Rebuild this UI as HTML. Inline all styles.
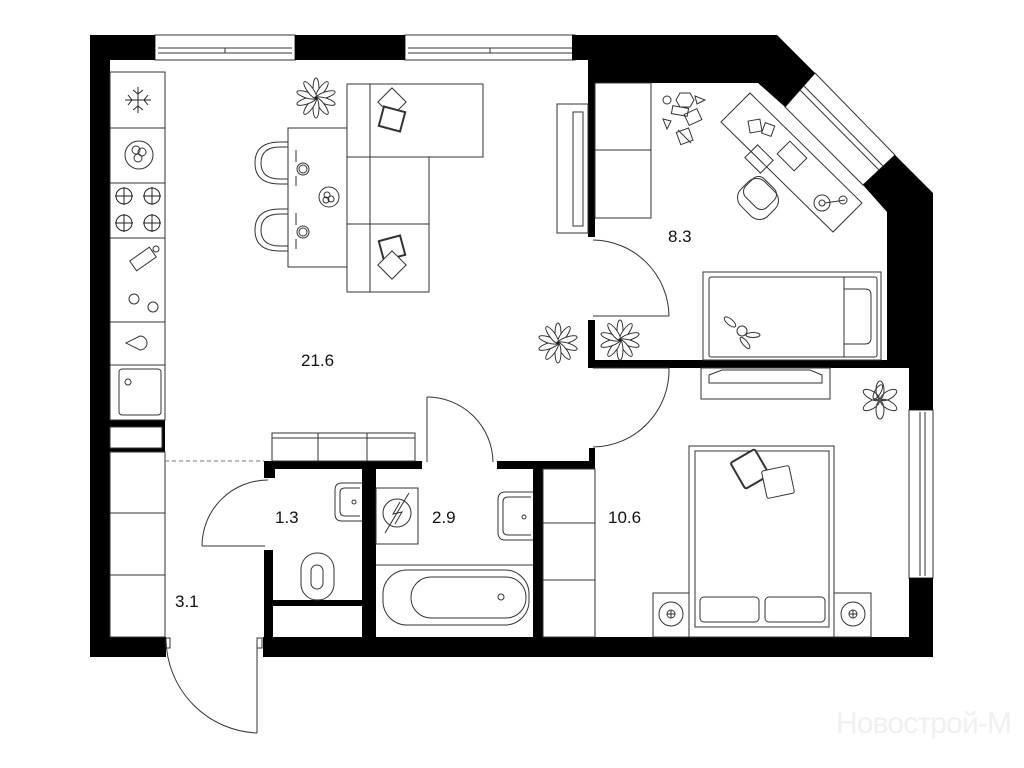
<!DOCTYPE html>
<html><head><meta charset="utf-8"><style>
html,body{margin:0;padding:0;background:#fff;}
svg{display:block;}
text{font-family:"Liberation Sans",sans-serif;font-size:17px;fill:#111;}
</style></head><body>
<svg width="1024" height="768" viewBox="0 0 1024 768" xmlns="http://www.w3.org/2000/svg">
<defs>
<g id="star"><g fill="#fff" stroke="#222" stroke-width="0.9">
<ellipse cx="0" cy="-10" rx="3" ry="10"/><ellipse cx="0" cy="-10" rx="3" ry="10" transform="rotate(36)"/><ellipse cx="0" cy="-10" rx="3" ry="10" transform="rotate(72)"/><ellipse cx="0" cy="-10" rx="3" ry="10" transform="rotate(108)"/><ellipse cx="0" cy="-10" rx="3" ry="10" transform="rotate(144)"/><ellipse cx="0" cy="-10" rx="3" ry="10" transform="rotate(180)"/><ellipse cx="0" cy="-10" rx="3" ry="10" transform="rotate(216)"/><ellipse cx="0" cy="-10" rx="3" ry="10" transform="rotate(252)"/><ellipse cx="0" cy="-10" rx="3" ry="10" transform="rotate(288)"/><ellipse cx="0" cy="-10" rx="3" ry="10" transform="rotate(324)"/></g><circle r="1.2" fill="#000"/></g>
<g id="burner"><circle r="8" fill="none" stroke="#222"/><line x1="-9" y1="0" x2="9" y2="0" stroke="#222"/><line x1="0" y1="-9" x2="0" y2="9" stroke="#222"/></g>
</defs>
<g fill="none" stroke="#333" stroke-width="1">
<rect x="155" y="35" width="140" height="25" fill="#fff"/>
<line x1="158" y1="48" x2="292" y2="48"/><line x1="158" y1="53" x2="292" y2="53"/><line x1="225" y1="48" x2="225" y2="53"/>
<rect x="405" y="35" width="170" height="25" fill="#fff"/>
<line x1="408" y1="48" x2="572" y2="48"/><line x1="408" y1="53" x2="572" y2="53"/><line x1="490" y1="48" x2="490" y2="53"/>
<polygon points="815,73 895,155 863,185 785,107" fill="#fff"/>
<line x1="800" y1="90" x2="879" y2="170"/><line x1="804" y1="86" x2="883" y2="166"/>
<rect x="909" y="410" width="24" height="168" fill="#fff"/>
<line x1="920" y1="412" x2="920" y2="576"/><line x1="925" y1="412" x2="925" y2="576"/>
</g>
<g fill="#000">
<rect x="90" y="35" width="65" height="25"/>
<rect x="295" y="35" width="110" height="25"/>
<rect x="90" y="35" width="20" height="622"/>
<rect x="90" y="637" width="76" height="20"/>
<polygon points="572,35 777,35 815,73 785,107 758,83 595,83 595,237 588,237 588,60 572,60"/>
<polygon points="895,155 933,193 933,410 909,410 909,368 887,368 887,212 863,185"/>
<rect x="909" y="578" width="24" height="79"/>
<rect x="263" y="637" width="670" height="20"/>
<rect x="588" y="320" width="7" height="48"/>
<rect x="588" y="360" width="300" height="8"/>
<rect x="110" y="420" width="55" height="32"/>
<rect x="264" y="461" width="158" height="8"/>
<rect x="264" y="461" width="11" height="17"/>
<rect x="264" y="550" width="9" height="90"/>
<rect x="362" y="461" width="14" height="178"/>
<rect x="273" y="600" width="90" height="6"/>
<rect x="497" y="461" width="98" height="8"/>
<rect x="589" y="448" width="6" height="20"/>
<rect x="533" y="461" width="10" height="178"/>
</g>
<rect x="110" y="427" width="52" height="21" fill="#fff" stroke="#333"/>
<g fill="none" stroke="#333" stroke-width="1">
<rect x="110" y="72" width="55" height="348"/>
<line x1="110" y1="128" x2="165" y2="128"/><line x1="110" y1="183" x2="165" y2="183"/><line x1="110" y1="238" x2="165" y2="238"/><line x1="110" y1="322" x2="165" y2="322"/><line x1="110" y1="365" x2="165" y2="365"/>
<g stroke="#222"><line x1="138" y1="87" x2="138" y2="113"/><line x1="125" y1="100" x2="151" y2="100"/><path d="M133 90 L138 94 L143 90 M133 110 L138 106 L143 110 M128 95 L132 100 L128 105 M148 95 L144 100 L148 105"/></g>
<circle cx="139" cy="155" r="14"/><circle cx="136" cy="150" r="4"/><circle cx="142" cy="152" r="4"/><circle cx="138" cy="158" r="4"/>
<use href="#burner" x="124" y="196"/><use href="#burner" x="152" y="196"/><use href="#burner" x="124" y="223"/><use href="#burner" x="152" y="223"/>
<rect x="131" y="253" width="24" height="12" transform="rotate(-35 143 259)"/><circle cx="156" cy="249" r="3"/>
<circle cx="134" cy="299" r="5"/><circle cx="153" cy="307" r="5"/>
<path d="M126 343 L140 336 A7 7 0 1 1 140 350 Z"/>
<rect x="119" y="369" width="42" height="46" rx="3"/><circle cx="128" cy="382" r="3"/>
<rect x="110" y="452" width="55" height="185"/>
<line x1="110" y1="513" x2="165" y2="513"/><line x1="110" y1="575" x2="165" y2="575"/>
<line x1="165" y1="461" x2="264" y2="461" stroke-dasharray="4,3" stroke="#777"/>
<rect x="288" y="128" width="59" height="139"/>
<path d="M288 142 H280 Q255 142 255 163 Q255 184 280 184 H288 M288 147 H280 Q261 147 261 163 Q261 179 280 179 H288"/>
<path d="M288 209 H280 Q255 209 255 230 Q255 251 280 251 H288 M288 214 H280 Q261 214 261 230 Q261 246 280 246 H288"/>
<circle cx="303" cy="169" r="6"/><circle cx="303" cy="169" r="4"/><line x1="296" y1="150" x2="296" y2="162"/><line x1="296" y1="176" x2="296" y2="186"/>
<circle cx="303" cy="232" r="6"/><circle cx="303" cy="232" r="4"/><line x1="296" y1="213" x2="296" y2="225"/><line x1="296" y1="239" x2="296" y2="249"/>
<circle cx="329" cy="197" r="10"/><circle cx="327" cy="195" r="3"/><circle cx="331" cy="199" r="3"/><circle cx="326" cy="200" r="3"/>
<use href="#star" x="316" y="98"/>
<rect x="347" y="84" width="136" height="73"/>
<rect x="347" y="157" width="82" height="135"/>
<line x1="370" y1="84" x2="370" y2="292"/><line x1="347" y1="224" x2="429" y2="224"/>
<rect x="382" y="92" width="20" height="20" transform="rotate(45 392 102)" fill="#fff"/>
<rect x="381" y="109" width="22" height="20" transform="rotate(15 392 119)" stroke-width="2" fill="#fff"/>
<rect x="381" y="238" width="22" height="20" transform="rotate(-15 392 248)" stroke-width="2" fill="#fff"/>
<rect x="382" y="255" width="20" height="20" transform="rotate(45 392 265)" fill="#fff"/>
<rect x="557" y="104" width="31" height="129"/>
<rect x="573" y="112" width="10" height="114"/>
<use href="#star" x="558" y="343"/>
<rect x="272" y="433" width="143" height="28"/><line x1="272" y1="438" x2="415" y2="438"/><line x1="318" y1="433" x2="318" y2="461"/><line x1="367" y1="433" x2="367" y2="461"/>
<line x1="257" y1="638" x2="257" y2="733"/><path d="M257 733 A95 95 0 0 1 166 640"/>
<rect x="166" y="638" width="4" height="10"/><rect x="257" y="638" width="5" height="10"/>
<line x1="202" y1="546" x2="265" y2="546"/><path d="M202 546 A66 66 0 0 1 268 480"/>
<line x1="427" y1="397" x2="427" y2="462"/><path d="M427 397 A66 66 0 0 1 493 462"/>
<line x1="593" y1="368" x2="669" y2="368"/><path d="M669 368 A77 77 0 0 1 593 447"/>
<line x1="593" y1="316" x2="669" y2="316"/><path d="M593 240 A77 77 0 0 1 669 316"/>
<rect x="595" y="83" width="56" height="135"/><line x1="595" y1="150" x2="651" y2="150"/>
<polygon points="721,122 750,93 862,203 833,232"/>
<rect x="748" y="150" width="22" height="18" transform="rotate(45 759 159)"/>
<rect x="780" y="147" width="24" height="18" transform="rotate(45 792 156)"/>
<rect x="749" y="120" width="12" height="12" transform="rotate(-10 755 126)"/><rect x="763" y="124" width="10" height="11" transform="rotate(20 768 130)"/>
<rect x="739" y="182" width="38" height="34" rx="12" transform="rotate(45 758 199)"/>
<rect x="745" y="180" width="30" height="26" rx="8" transform="rotate(45 760 193)"/>
<circle cx="822" cy="203" r="8"/><circle cx="822" cy="203" r="3"/><line x1="825" y1="203" x2="845" y2="200"/><circle cx="843" cy="200" r="4"/>
<circle cx="667" cy="100" r="4"/><polygon points="680,93 690,93 694,100 690,107 680,107 676,100"/><polygon points="695,96 705,100 697,104"/><rect x="672" y="107" width="16" height="8" transform="rotate(10 680 111)"/><rect x="686" y="111" width="14" height="12" transform="rotate(-25 693 117)"/><polygon points="663,119 671,121 667,129"/><rect x="678" y="130" width="13" height="13" transform="rotate(-20 684 136)"/><line x1="678" y1="130" x2="691" y2="143"/>
<text x="668" y="242" stroke="none">8.3</text>
<rect x="703" y="272" width="178" height="88"/><rect x="709" y="277" width="168" height="80" rx="2"/>
<line x1="844" y1="277" x2="844" y2="357"/><path d="M844 289 H865 Q871 289 871 295 V338 Q871 344 865 344 H844"/>
<circle cx="742" cy="331" r="5"/><ellipse cx="730" cy="322" rx="7" ry="3" transform="rotate(40 730 322)"/><ellipse cx="753" cy="335" rx="7" ry="2.5"/><ellipse cx="745" cy="343" rx="7" ry="2.5" transform="rotate(50 745 343)"/>
<use href="#star" x="620" y="340"/>
<rect x="701" y="368" width="129" height="31"/><path d="M709 375 L722 370 H810 L822 375 V383 H709 Z"/>
<g transform="translate(880 400)"><ellipse cx="0" cy="-10" rx="4" ry="9"/><ellipse cx="0" cy="-10" rx="4" ry="9" transform="rotate(60)"/><ellipse cx="0" cy="-10" rx="4" ry="9" transform="rotate(120)"/><ellipse cx="0" cy="-10" rx="4" ry="9" transform="rotate(180)"/><ellipse cx="0" cy="-10" rx="4" ry="9" transform="rotate(240)"/><ellipse cx="0" cy="-10" rx="4" ry="9" transform="rotate(300)"/><ellipse cx="-6" cy="-6" rx="3" ry="8" transform="rotate(30)"/></g>
<rect x="689" y="446" width="145" height="191"/><rect x="695" y="451" width="134" height="176"/>
<rect x="700" y="597" width="59" height="25" rx="4"/><rect x="765" y="597" width="60" height="25" rx="4"/>
<rect x="736" y="454" width="28" height="30" rx="2" transform="rotate(-30 750 469)" stroke-width="2" fill="#fff"/>
<rect x="764" y="468" width="28" height="28" rx="2" transform="rotate(-12 778 482)" fill="#fff"/>
<rect x="653" y="593" width="36" height="44"/><rect x="834" y="593" width="37" height="44"/>
<circle cx="671" cy="614" r="12"/><circle cx="671" cy="614" r="4"/><line x1="667" y1="614" x2="675" y2="614"/><line x1="671" y1="610" x2="671" y2="618"/>
<circle cx="853" cy="614" r="12"/><circle cx="853" cy="614" r="4"/><line x1="849" y1="614" x2="857" y2="614"/><line x1="853" y1="610" x2="853" y2="618"/>
<rect x="543" y="469" width="52" height="168"/><line x1="543" y1="523" x2="595" y2="523"/><line x1="543" y1="580" x2="595" y2="580"/>
<path d="M362 483 H342 Q335 483 335 490 V514 Q335 521 342 521 H362"/><path d="M360 488 H345 Q340 488 340 493 V511 Q340 516 345 516 H360"/><circle cx="354" cy="502" r="2"/>
<rect x="301" y="553" width="33" height="47" rx="16"/><rect x="311" y="565" width="12" height="24" rx="6"/>
<rect x="376" y="488" width="42" height="56"/><circle cx="397" cy="513" r="14"/><line x1="385" y1="533" x2="409" y2="493"/><path d="M400 502 L393 514 L402 512 L395 524"/>
<path d="M533 492 H505 Q498 492 498 500 V532 Q498 540 505 540 H533"/><path d="M531 497 H508 Q503 497 503 502 V530 Q503 535 508 535 H531"/><circle cx="524" cy="517" r="2"/>
<line x1="376" y1="565" x2="533" y2="565"/>
<rect x="383" y="570" width="146" height="55" rx="24"/><rect x="411" y="577" width="115" height="41" rx="20"/><circle cx="501" cy="597" r="3"/>
</g>
<g stroke="none">
<text x="301" y="366">21.6</text>
<text x="275" y="523">1.3</text>
<text x="432" y="523">2.9</text>
<text x="608" y="523">10.6</text>
<text x="175" y="607">3.1</text>
<text x="836" y="733" style="font-size:30px;fill:#f0f0f0;font-family:'Liberation Sans Narrow','Liberation Sans',sans-serif;" textLength="176">Новострой-М</text>
</g>
</svg>
</body></html>
